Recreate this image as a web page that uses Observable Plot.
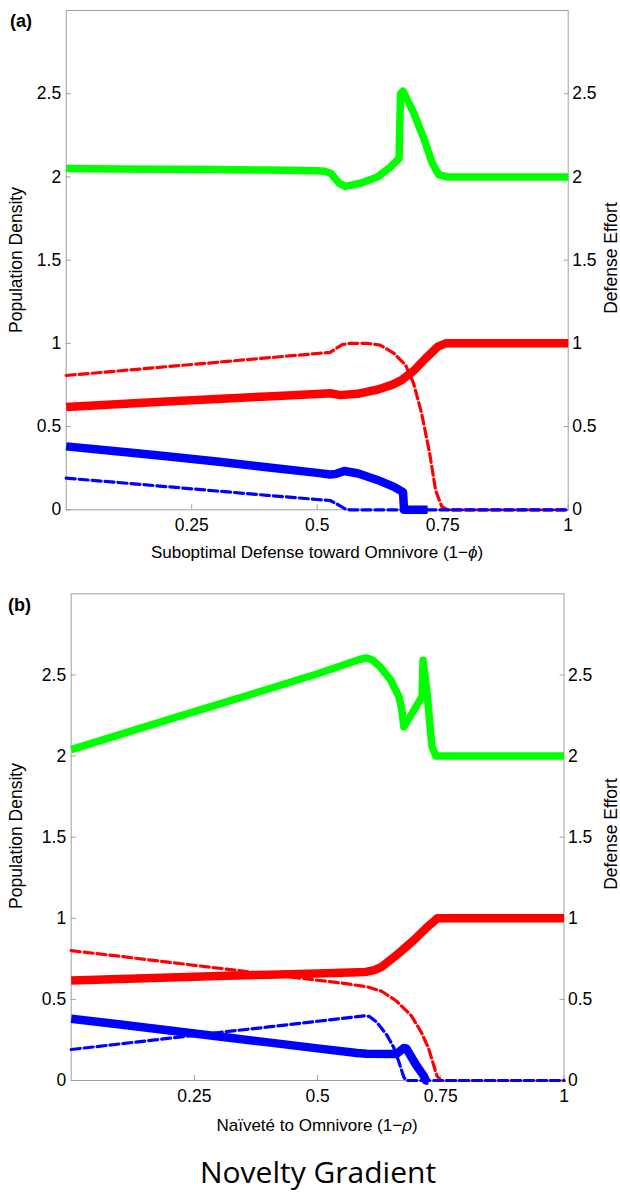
<!DOCTYPE html>
<html>
<head>
<meta charset="utf-8">
<script src="https://cdn.jsdelivr.net/npm/d3@7"></script>
<script src="https://cdn.jsdelivr.net/npm/@observablehq/plot@0.6"></script>
<style>
  html, body { margin: 0; padding: 0; background: #fff; }
  #root { position: relative; width: 620px; height: 1194px; font-family: "Liberation Sans", Arial, sans-serif; color: #000; }
  .abs { position: absolute; white-space: nowrap; line-height: 1.15; }
  .ylab { transform: translate(-50%, -50%) rotate(-90deg); font-size: 17.5px; }
  .xlab { transform: translate(-50%, -50%); font-size: 17px; }
  .tag { font-weight: bold; font-size: 18px; }
  #caption { transform: translate(-50%, -50%); font-family: "Open Sans", "Noto Sans", sans-serif; font-size: 30px; }
</style>
</head>
<body>
<div id="root"></div>
<script>
// ---------- data ----------
const xTicks = [0.25, 0.5, 0.75, 1];
const yTicks = [0, 0.5, 1, 1.5, 2, 2.5];
const panelTags = ["(a)", "(b)"];
const xTitles = ["Suboptimal Defense toward Omnivore (1\u2212<i>\u03d5</i>)", "Na\u00efvet\u00e9 to Omnivore (1\u2212<i>\u03c1</i>)"];
const yTitleLeft = "Population Density";
const yTitleRight = "Defense Effort";
const captionText = "Novelty Gradient";

// panel (a): [x, y]
const aGreen = [[0,2.05],[0.1,2.048],[0.2,2.046],[0.3,2.044],[0.4,2.041],[0.5,2.037],[0.515,2.034],[0.527,2.022],[0.543,1.964],[0.556,1.943],[0.586,1.962],[0.62,2.0],[0.646,2.06],[0.663,2.112],[0.666,2.5],[0.671,2.515],[0.692,2.386],[0.712,2.235],[0.729,2.084],[0.742,2.014],[0.759,2.0],[1,2.0]];
const aRedSolid = [[0,0.618],[0.1,0.634],[0.2,0.65],[0.3,0.666],[0.4,0.681],[0.5,0.696],[0.526,0.70],[0.546,0.689],[0.58,0.697],[0.621,0.723],[0.65,0.752],[0.668,0.779],[0.692,0.835],[0.716,0.91],[0.74,0.98],[0.756,1.0],[1,1.0]];
const aRedDash = [[0,0.807],[0.1,0.833],[0.2,0.86],[0.3,0.886],[0.4,0.913],[0.5,0.939],[0.526,0.946],[0.538,0.97],[0.55,0.992],[0.565,1.0],[0.6,1.0],[0.625,0.99],[0.653,0.94],[0.676,0.87],[0.692,0.76],[0.708,0.58],[0.724,0.34],[0.736,0.116],[0.748,0.02],[0.76,0],[1,0]];
const aBlueSolid = [[0,0.381],[0.1,0.352],[0.2,0.322],[0.3,0.29],[0.4,0.256],[0.5,0.222],[0.526,0.212],[0.538,0.216],[0.554,0.233],[0.582,0.218],[0.621,0.178],[0.653,0.138],[0.671,0.106],[0.673,0],[0.72,0]];
const aBlueDash = [[0,0.19],[0.1,0.165],[0.2,0.139],[0.3,0.113],[0.4,0.087],[0.5,0.062],[0.526,0.056],[0.542,0.03],[0.558,0.002],[0.565,0],[1,0]];

// panel (b): [x, y]
const bGreen = [[0,2.04],[0.1,2.133],[0.2,2.227],[0.3,2.32],[0.4,2.413],[0.5,2.507],[0.585,2.595],[0.6,2.605],[0.612,2.59],[0.627,2.55],[0.648,2.47],[0.665,2.366],[0.671,2.284],[0.675,2.18],[0.695,2.28],[0.712,2.366],[0.714,2.59],[0.722,2.39],[0.732,2.06],[0.74,2.0],[1,2.0]];
const bRedSolid = [[0,0.617],[0.1,0.626],[0.2,0.635],[0.3,0.644],[0.4,0.652],[0.5,0.66],[0.598,0.669],[0.615,0.68],[0.63,0.70],[0.663,0.78],[0.695,0.864],[0.719,0.936],[0.743,1.0],[1,1.0]];
const bRedDash = [[0,0.80],[0.1,0.765],[0.2,0.728],[0.3,0.692],[0.4,0.655],[0.5,0.618],[0.55,0.60],[0.6,0.578],[0.63,0.55],[0.66,0.49],[0.69,0.40],[0.71,0.30],[0.725,0.20],[0.735,0.10],[0.742,0.03],[0.75,0],[1,0]];
const bBlueSolid = [[0,0.381],[0.1,0.345],[0.2,0.308],[0.3,0.271],[0.4,0.235],[0.5,0.198],[0.58,0.17],[0.6,0.165],[0.66,0.163],[0.675,0.2],[0.68,0.198],[0.699,0.1],[0.715,0.03],[0.72,0],[0.725,0]];
const bBlueDash = [[0,0.191],[0.1,0.226],[0.2,0.261],[0.3,0.296],[0.4,0.33],[0.5,0.365],[0.594,0.398],[0.605,0.395],[0.62,0.36],[0.641,0.278],[0.654,0.206],[0.664,0.123],[0.675,0.02],[0.68,0],[1,0]];

// ---------- drawing ----------
const GREEN = "#00ff00", RED = "#ff0000", BLUE = "#0000ff", FRAME = "#a0a0a0";
const fmt = d => String(d);

function panel(series, geom) {
  const [green, redS, redD, blueS, blueD] = series;
  const solid = (data, color, w) => Plot.line(data, {x: d => d[0], y: d => d[1], stroke: color, strokeWidth: w, strokeLinejoin: "round", strokeLinecap: "butt"});
  const dashed = (data, color) => Plot.line(data, {x: d => d[0], y: d => d[1], stroke: color, strokeWidth: 3.2, strokeDasharray: "9,4", strokeLinejoin: "round"});
  return Plot.plot({
    width: 620, height: geom.height,
    marginLeft: geom.left, marginRight: geom.right, marginTop: geom.top, marginBottom: geom.bottom,
    x: {domain: [0, 1]},
    y: {domain: [0, 3]},
    style: {fontFamily: '"Liberation Sans", Arial, sans-serif', fontSize: "17px", color: "#000", background: "transparent"},
    marks: [
      Plot.frame({stroke: FRAME, strokeWidth: 1}),
      Plot.axisX(xTicks, {anchor: "bottom", tickSize: -5, stroke: FRAME, fill: "none", label: null}),
      Plot.axisX(xTicks, {anchor: "bottom", tickSize: 0, tickPadding: 9, tickFormat: fmt, fill: "#000", label: null, fontSize: 17.5}),
      Plot.axisY(yTicks, {anchor: "left", tickSize: -5, stroke: FRAME, fill: "none", label: null}),
      Plot.axisY(yTicks, {anchor: "left", tickSize: 0, tickPadding: 5, tickFormat: fmt, fill: "#000", label: null, fontSize: 17.5}),
      Plot.axisY(yTicks, {anchor: "right", tickSize: -5, stroke: FRAME, fill: "none", label: null}),
      Plot.axisY(yTicks, {anchor: "right", tickSize: 0, tickPadding: 4, tickFormat: fmt, fill: "#000", label: null, fontSize: 17.5}),
      solid(green, GREEN, 7.5),
      solid(redS, RED, 8.5),
      solid(blueS, BLUE, 8.5),
      dashed(redD, RED),
      dashed(blueD, BLUE)
    ]
  });
}

const root = document.getElementById("root");
function place(el, top, left) {
  el.style.position = "absolute";
  el.style.top = top + "px";
  el.style.left = (left || 0) + "px";
  root.appendChild(el);
}
function text(html, cls, x, y) {
  const d = document.createElement("div");
  d.className = "abs " + cls;
  d.innerHTML = html;
  d.style.left = x + "px";
  d.style.top = y + "px";
  root.appendChild(d);
  return d;
}

const geomA = {height: 570, left: 65.7, right: 52.3, top: 10, bottom: 60.7};
const geomB = {height: 557, left: 70.7, right: 56.5, top: 10.3, bottom: 60};

place(panel([aGreen, aRedSolid, aRedDash, aBlueSolid, aBlueDash], geomA), 0);
place(panel([bGreen, bRedSolid, bRedDash, bBlueSolid, bBlueDash], geomB), 583);

// panel tags
text(panelTags[0], "tag", 10, 11);
text(panelTags[1], "tag", 8, 595);

// axis titles
text(xTitles[0], "xlab", 317, 553);
text(xTitles[1], "xlab", 317, 1126);
text(yTitleLeft, "ylab", 16, 260);
text(yTitleRight, "ylab", 611, 258);
text(yTitleLeft, "ylab", 16, 836);
text(yTitleRight, "ylab", 611, 834);

// caption
const cap = text(captionText, "", 318, 1172);
cap.id = "caption";
</script>
</body>
</html>
